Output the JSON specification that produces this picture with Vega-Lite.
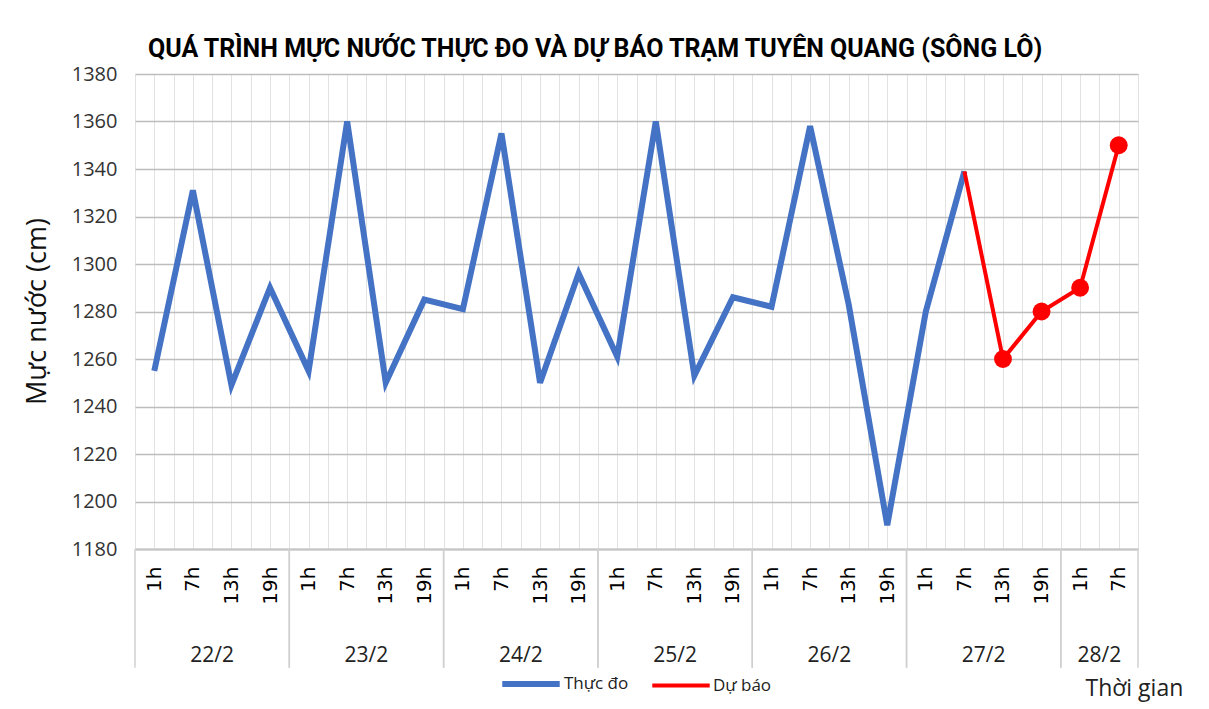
{
  "$schema": "https://vega.github.io/schema/vega-lite/v6.json",
  "width": 1003,
  "height": 475,
  "autosize": {"type": "none"},
  "padding": {"left": 135, "top": 74, "right": 71, "bottom": 160},
  "background": "#ffffff",
  "config": {
    "font": "Open Sans",
    "view": {"stroke": null}
  },
  "title": {
    "text": "QUÁ TRÌNH MỰC NƯỚC THỰC ĐO VÀ DỰ BÁO TRẠM TUYÊN QUANG (SÔNG LÔ)",
    "anchor": "start",
    "frame": "group",
    "dx": 13,
    "font": "Roboto",
    "fontSize": 25,
    "fontWeight": "bold",
    "color": "#000000",
    "baseline": "alphabetic",
    "offset": -18
  },
  "datasets": {
    "levels": [
      {"idx": 0, "day": "22/2", "hour": "1h", "value": 1255, "series": "Thực đo"},
      {"idx": 1, "day": "22/2", "hour": "7h", "value": 1331, "series": "Thực đo"},
      {"idx": 2, "day": "22/2", "hour": "13h", "value": 1249, "series": "Thực đo"},
      {"idx": 3, "day": "22/2", "hour": "19h", "value": 1290, "series": "Thực đo"},
      {"idx": 4, "day": "23/2", "hour": "1h", "value": 1255, "series": "Thực đo"},
      {"idx": 5, "day": "23/2", "hour": "7h", "value": 1360, "series": "Thực đo"},
      {"idx": 6, "day": "23/2", "hour": "13h", "value": 1250, "series": "Thực đo"},
      {"idx": 7, "day": "23/2", "hour": "19h", "value": 1285, "series": "Thực đo"},
      {"idx": 8, "day": "24/2", "hour": "1h", "value": 1281, "series": "Thực đo"},
      {"idx": 9, "day": "24/2", "hour": "7h", "value": 1355, "series": "Thực đo"},
      {"idx": 10, "day": "24/2", "hour": "13h", "value": 1250, "series": "Thực đo"},
      {"idx": 11, "day": "24/2", "hour": "19h", "value": 1296, "series": "Thực đo"},
      {"idx": 12, "day": "25/2", "hour": "1h", "value": 1261, "series": "Thực đo"},
      {"idx": 13, "day": "25/2", "hour": "7h", "value": 1360, "series": "Thực đo"},
      {"idx": 14, "day": "25/2", "hour": "13h", "value": 1253, "series": "Thực đo"},
      {"idx": 15, "day": "25/2", "hour": "19h", "value": 1286, "series": "Thực đo"},
      {"idx": 16, "day": "26/2", "hour": "1h", "value": 1282, "series": "Thực đo"},
      {"idx": 17, "day": "26/2", "hour": "7h", "value": 1358, "series": "Thực đo"},
      {"idx": 18, "day": "26/2", "hour": "13h", "value": 1283, "series": "Thực đo"},
      {"idx": 19, "day": "26/2", "hour": "19h", "value": 1190, "series": "Thực đo"},
      {"idx": 20, "day": "27/2", "hour": "1h", "value": 1280, "series": "Thực đo"},
      {"idx": 21, "day": "27/2", "hour": "7h", "value": 1339, "series": "Thực đo"},
      {"idx": 21, "day": "27/2", "hour": "7h", "value": 1339, "series": "Dự báo"},
      {"idx": 22, "day": "27/2", "hour": "13h", "value": 1260, "series": "Dự báo"},
      {"idx": 23, "day": "27/2", "hour": "19h", "value": 1280, "series": "Dự báo"},
      {"idx": 24, "day": "28/2", "hour": "1h", "value": 1290, "series": "Dự báo"},
      {"idx": 25, "day": "28/2", "hour": "7h", "value": 1350, "series": "Dự báo"}
    ],
    "days": [
      {"day": "22/2", "start": -0.5, "mid": 1.5, "end": 3.5},
      {"day": "23/2", "start": 3.5, "mid": 5.5, "end": 7.5},
      {"day": "24/2", "start": 7.5, "mid": 9.5, "end": 11.5},
      {"day": "25/2", "start": 11.5, "mid": 13.5, "end": 15.5},
      {"day": "26/2", "start": 15.5, "mid": 17.5, "end": 19.5},
      {"day": "27/2", "start": 19.5, "mid": 21.5, "end": 23.5},
      {"day": "28/2", "start": 23.5, "mid": 24.5, "end": 25.5}
    ]
  },
  "layer": [
    {
      "data": {"name": "days"},
      "mark": {"type": "rule", "color": "#d0d0d0", "strokeWidth": 1.5},
      "encoding": {
        "x": {"field": "start", "type": "quantitative"},
        "y": {"datum": 1180, "type": "quantitative"},
        "y2": {"datum": 1130}
      }
    },
    {
      "data": {"name": "days"},
      "mark": {"type": "rule", "color": "#d0d0d0", "strokeWidth": 1.5},
      "encoding": {
        "x": {"field": "end", "type": "quantitative"},
        "y": {"datum": 1180, "type": "quantitative"},
        "y2": {"datum": 1130}
      }
    },
    {
      "data": {"name": "levels"},
      "mark": {"type": "line", "strokeJoin": "miter", "strokeCap": "butt"},
      "encoding": {
        "x": {
          "field": "idx",
          "type": "quantitative",
          "scale": {"domain": [-0.5, 25.5], "nice": false, "zero": false},
          "axis": {
            "title": "Thời gian",
            "titleFont": "Open Sans",
            "titleFontSize": 23,
            "titleFontWeight": "normal",
            "titleColor": "#222222",
            "titleAlign": "left",
            "titleBaseline": "alphabetic",
            "titleX": 950,
            "titleY": 146,
            "tickCount": 200,
            "values": [-0.5, 0, 0.5, 1, 1.5, 2, 2.5, 3, 3.5, 4, 4.5, 5, 5.5, 6, 6.5, 7, 7.5, 8, 8.5, 9, 9.5, 10, 10.5, 11, 11.5, 12, 12.5, 13, 13.5, 14, 14.5, 15, 15.5, 16, 16.5, 17, 17.5, 18, 18.5, 19, 19.5, 20, 20.5, 21, 21.5, 22, 22.5, 23, 23.5, 24, 24.5, 25, 25.5],
            "labelExpr": "datum.value % 1 == 0 ? ['1h','7h','13h','19h'][datum.value % 4] : ''",
            "labelAngle": -90,
            "labelAlign": "right",
            "labelBaseline": "middle",
            "labelPadding": 17,
            "labelFont": "DejaVu Sans",
            "labelFontSize": 20,
            "labelColor": "#000000",
            "labelOverlap": false,
            "labelFlush": false,
            "labelBound": false,
            "ticks": false,
            "grid": true,
            "gridColor": "#e2e2e2",
            "gridWidth": 1,
            "domain": true,
            "domainColor": "#c4c4c4",
            "domainWidth": 2
          }
        },
        "y": {
          "field": "value",
          "type": "quantitative",
          "scale": {"domain": [1180, 1380], "nice": false, "zero": false},
          "axis": {
            "title": "Mực nước (cm)",
            "titleFont": "Open Sans",
            "titleFontSize": 27,
            "titleFontWeight": "normal",
            "titleColor": "#111111",
            "titleAngle": -90,
            "titleAlign": "center",
            "titleBaseline": "middle",
            "titleX": -98,
            "titleY": 237,
            "tickCount": 50,
            "values": [1180, 1200, 1220, 1240, 1260, 1280, 1300, 1320, 1340, 1360, 1380],
            "format": "d",
            "labelFont": "Open Sans",
            "labelFontSize": 20,
            "labelColor": "#333333",
            "labelPadding": 18,
            "ticks": false,
            "domain": false,
            "grid": true,
            "gridColor": "#bdbdbd",
            "gridWidth": 1.3
          }
        },
        "color": {
          "field": "series",
          "type": "nominal",
          "sort": ["Thực đo", "Dự báo"],
          "scale": {"domain": ["Thực đo", "Dự báo"], "range": ["#4472C4", "#FF0000"]},
          "legend": {
            "title": null,
            "orient": "none",
            "direction": "horizontal",
            "legendX": 364,
            "legendY": 578,
            "symbolType": "stroke",
            "symbolStrokeWidth": 5,
            "symbolSize": 3300,
            "labelFont": "Open Sans",
            "labelFontSize": 17,
            "labelColor": "#222222",
            "labelOffset": 1,
            "columnPadding": 15
          }
        },
        "strokeWidth": {
          "field": "series",
          "type": "nominal",
          "scale": {"domain": ["Thực đo", "Dự báo"], "range": [6, 4]},
          "legend": null
        }
      }
    },
    {
      "data": {"name": "levels"},
      "transform": [{"filter": "datum.series == 'Dự báo' && datum.idx > 21"}],
      "mark": {"type": "circle", "size": 320, "opacity": 1, "color": "#FF0000"},
      "encoding": {
        "x": {"field": "idx", "type": "quantitative"},
        "y": {"field": "value", "type": "quantitative"}
      }
    },
    {
      "data": {"name": "days"},
      "mark": {"type": "text", "font": "Open Sans", "fontSize": 21, "color": "#222222", "baseline": "middle", "align": "center"},
      "encoding": {
        "x": {"field": "mid", "type": "quantitative"},
        "y": {"datum": 1135, "type": "quantitative"},
        "text": {"field": "day"}
      }
    }
  ]
}
